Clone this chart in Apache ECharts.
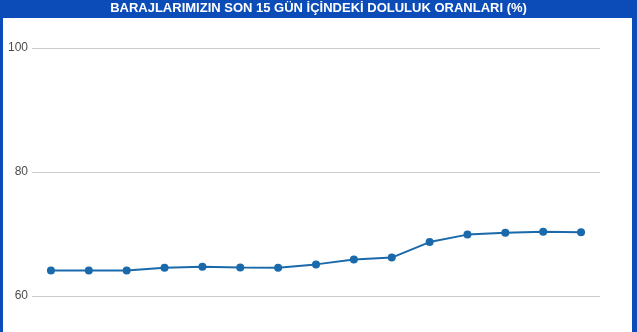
<!DOCTYPE html>
<html>
<head>
<meta charset="utf-8">
<script src="https://cdn.jsdelivr.net/npm/echarts@6/dist/echarts.min.js"></script>
<style>
html,body{margin:0;padding:0;overflow:hidden;background:#fff;}
#chart{width:637px;height:440px;}
</style>
</head>
<body>
<div id="chart"></div>
<script>
const titleText = "BARAJLARIMIZIN SON 15 GÜN İÇİNDEKİ DOLULUK ORANLARI (%)";
const categories = ["1","2","3","4","5","6","7","8","9","10","11","12","13","14","15"];
const fillRates = [64.1, 64.1, 64.1, 64.55, 64.7, 64.6, 64.55, 65.1, 65.9, 66.2, 68.7, 69.9, 70.2, 70.35, 70.3];
const yTicks = { min: 40, max: 100, interval: 20 };

const chart = echarts.init(document.getElementById('chart'), null, { renderer: 'canvas' });
chart.setOption({
  animation: false,
  backgroundColor: '#ffffff',
  title: {
    text: titleText,
    left: 'center',
    top: 2,
    padding: 0,
    textStyle: { color: '#ffffff', fontSize: 13, fontWeight: 'bold', fontFamily: 'Liberation Sans, Arial, sans-serif' }
  },
  graphic: [
    { type: 'rect', z: 0, shape: { x: 0, y: 0, width: 637, height: 18 }, style: { fill: '#0c4cb8' } },
    { type: 'rect', z: 0, shape: { x: 0, y: 0, width: 3, height: 440 }, style: { fill: '#0c4cb8' } },
    { type: 'rect', z: 0, shape: { x: 632, y: 0, width: 5, height: 440 }, style: { fill: '#0c4cb8' } }
  ],
  grid: { left: 32, right: 37, top: 48, bottom: 20, containLabel: false },
  xAxis: {
    type: 'category',
    data: categories,
    boundaryGap: true,
    axisLine: { show: false },
    axisTick: { show: false },
    axisLabel: { show: false },
    splitLine: { show: false }
  },
  yAxis: {
    type: 'value',
    min: yTicks.min,
    max: yTicks.max,
    interval: yTicks.interval,
    axisLine: { show: false },
    axisTick: { show: false },
    axisLabel: { color: '#4d4d4d', fontSize: 12, margin: 4, fontFamily: 'Liberation Sans, Arial, sans-serif' },
    splitLine: { lineStyle: { color: '#cccccc', width: 1 } }
  },
  series: [{
    type: 'line',
    data: fillRates,
    symbol: 'circle',
    symbolSize: 8,
    lineStyle: { color: '#1a6aab', width: 2 },
    itemStyle: { color: '#1a6aab' }
  }]
});
</script>
</body>
</html>
